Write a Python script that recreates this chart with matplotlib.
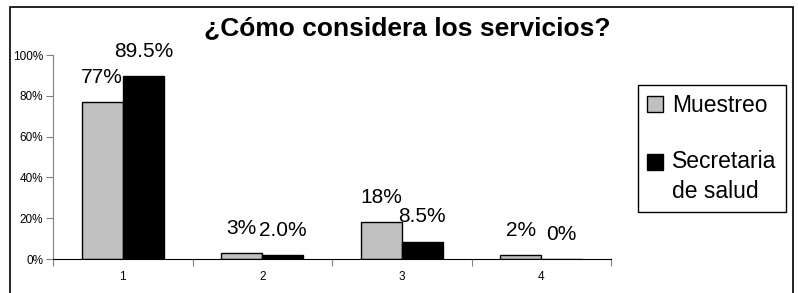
import matplotlib
matplotlib.use("Agg")
import matplotlib.pyplot as plt
import numpy as np
from matplotlib.patches import Rectangle
from matplotlib.legend_handler import HandlerPatch

categories = ["1", "2", "3", "4"]
muestreo = [77, 3, 18, 2]
secretaria = [89.5, 2.0, 8.5, 0]
muestreo_labels = ["77%", "3%", "18%", "2%"]
secretaria_labels = ["89.5%", "2.0%", "8.5%", "0%"]
series_names = ["Muestreo", "Secretaria\nde salud"]
title = "¿Cómo considera los servicios?"
yticks = [0, 20, 40, 60, 80, 100]

plt.rcParams['font.family'] = ['Liberation Sans', 'DejaVu Sans']

W, H = 798, 293
fig = plt.figure(figsize=(W / 100, H / 100), dpi=100)
ax = fig.add_axes([53 / W, 1 - 259 / H, (611 - 53) / W, (259 - 55) / H])

x = np.arange(len(categories))
bw = 0.294
b1 = ax.bar(x - bw / 2, muestreo, bw, color="#C0C0C0", edgecolor="black", linewidth=1, label=series_names[0])
b2 = ax.bar(x + bw / 2, secretaria, bw, color="black", edgecolor="black", linewidth=1, label=series_names[1])

for bars, labels in ((b1, muestreo_labels), (b2, secretaria_labels)):
    for rect, lab in zip(bars, labels):
        ax.annotate(lab, (rect.get_x() + rect.get_width() / 2, rect.get_height()),
                    xytext=(0, 11), textcoords="offset points", ha="center", va="bottom",
                    fontsize=15, clip_on=False)

ax.set_xlim(-0.5, len(categories) - 0.5)
ax.set_ylim(0, 100)
ax.set_yticks(yticks)
ax.set_yticklabels([f"{v}%" for v in yticks], fontsize=8.5)
ax.set_xticks(np.arange(len(categories) + 1) - 0.5)
ax.set_xticklabels([])
ax.set_xticks(x, minor=True)
ax.set_xticklabels(categories, minor=True, fontsize=8.5)
ax.tick_params(axis="x", which="major", direction="out", length=5, color="#808080")
ax.tick_params(axis="x", which="minor", length=0, pad=9)
ax.tick_params(axis="y", direction="out", length=5, color="#808080", pad=2)
for s in ("top", "right"):
    ax.spines[s].set_visible(False)
ax.spines["left"].set_color("#808080")
ax.spines["bottom"].set_color("black")

fig.text(407 / W, 1 - 28 / H, title, ha="center", va="center", fontsize=19, fontweight="bold")

leg_fs = 16.5
line_shift = 11.5


def shifted_patch(legend, orig_handle, xdescent, ydescent, width, height, fontsize):
    return Rectangle((-xdescent, -ydescent + line_shift), width, height)


h1 = b1.patches[0]
h2 = b2.patches[0]
leg = fig.legend(handles=[h1, h2], labels=series_names, loc="upper left",
                 bbox_to_anchor=(638 / W, 1 - 85 / H),
                 bbox_transform=fig.transFigure, fontsize=leg_fs, frameon=True, fancybox=False,
                 edgecolor="black", framealpha=1, handlelength=0.7, handleheight=0.7,
                 handletextpad=0.4, labelspacing=1.45, borderpad=0.4, borderaxespad=0,
                 handler_map={h2: HandlerPatch(patch_func=shifted_patch)})
leg.get_frame().set_linewidth(1)
for t in leg.get_texts():
    t.set_linespacing(1.38)
    t.set_multialignment("left")

fig.patches.append(Rectangle((10 / W, -0.2), (793 - 10) / W, 1.2 - 7 / H, transform=fig.transFigure,
                             fill=False, edgecolor="black", linewidth=1.2))

fig.savefig("out.png", dpi=100)
